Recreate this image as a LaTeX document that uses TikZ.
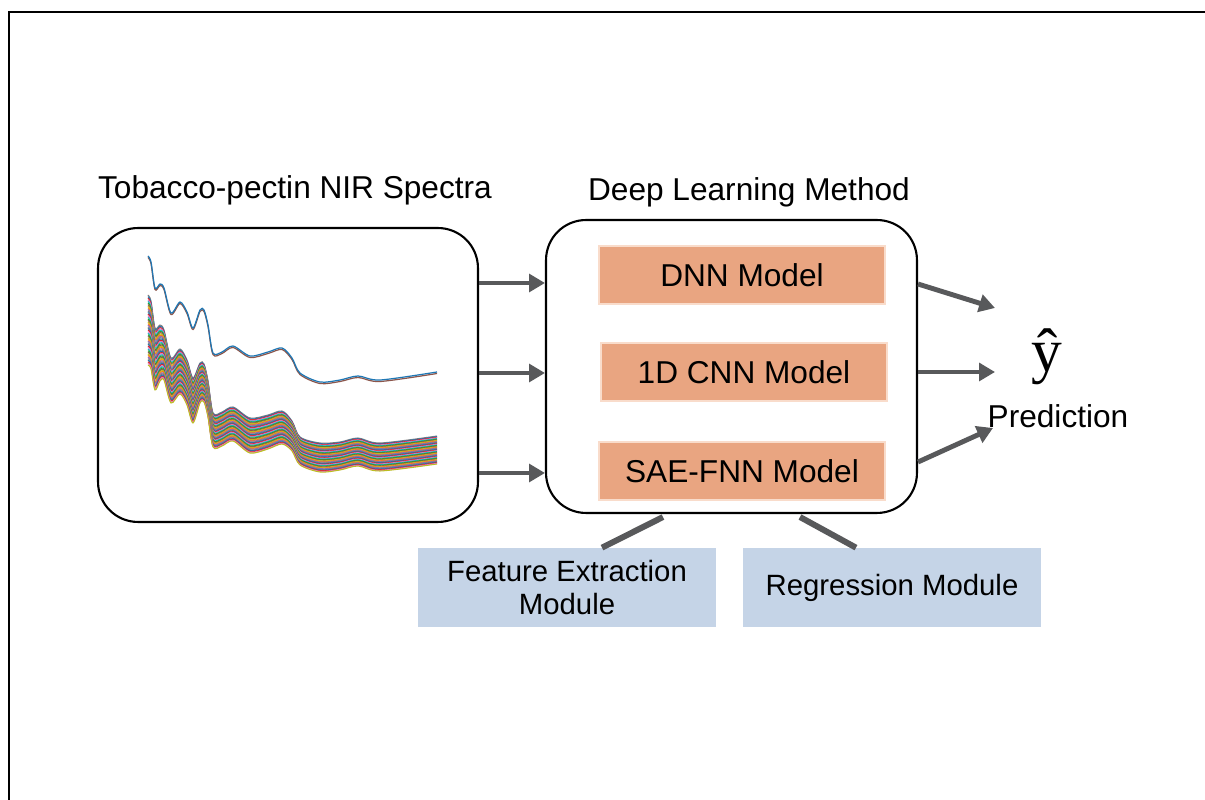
\documentclass[tikz,border=0pt]{standalone}
\usepackage{fontspec}
\setmainfont{Liberation Sans}
\newfontfamily\hatfont{Liberation Serif}
\usetikzlibrary{arrows.meta}

% matplotlib colours for the spectra
\definecolor{tab0}{HTML}{1F77B4}
\definecolor{tab1}{HTML}{FF7F0E}
\definecolor{tab2}{HTML}{2CA02C}
\definecolor{tab3}{HTML}{D62728}
\definecolor{tab4}{HTML}{9467BD}
\definecolor{tab5}{HTML}{8C564B}
\definecolor{tab6}{HTML}{E377C2}
\definecolor{tab7}{HTML}{7F7F7F}
\definecolor{tab8}{HTML}{BCBD22}
\definecolor{tab9}{HTML}{17BECF}
\definecolor{modelfill}{HTML}{E9A581}
\definecolor{modeledge}{HTML}{F9DCCB}
\definecolor{modulefill}{HTML}{C5D4E7}
\definecolor{arrowgray}{HTML}{58595B}

% x / y / offset / spread of the spectra
\newcommand{\specpts}{148/256/39/70, 151/262/39/68, 155/288/40/62, 160/284/41/56,
  164/288/42/50, 171/313/45/45, 180/302/47/45, 187/312/48/45, 193/328/50/45,
  200/310/53/40, 204/310/54/38, 208/325/56/36, 213/353/60/34, 222/352/60/34,
  233/346/61/34, 250/356/62/35, 268/352/63/34, 282/348/63/33, 292/358/63/30,
  300/373/64/28, 320/382/61/29, 340/380/62/28, 358/376/62/28, 380/380/63/28,
  437/372/64/28}

\begin{document}
\begin{tikzpicture}[x=0.02cm,y=-0.02cm,
  every node/.style={font=\fontsize{18}{21}\selectfont},
  bigbox/.style={draw,line width=1.2pt,rounded corners=0.8cm,fill=white},
  modelbox/.style={draw=modeledge,line width=1pt,fill=modelfill,minimum width=5.72cm,minimum height=1.16cm},
  modulebox/.style={fill=modulefill,minimum width=5.96cm,minimum height=1.58cm,align=center,
    font=\fontsize{16.7}{19}\selectfont},
  arr/.style={arrowgray,line width=2.8pt,-{Triangle[length=9pt,width=10pt]}},
  link/.style={arrowgray,line width=3.4pt}]
\useasboundingbox (0,0) rectangle (1205,800);

% outer frame
\draw[line width=1.7pt] (9,12) rectangle (1230,830);

% boxes
\node[bigbox,minimum width=7.6cm,minimum height=5.88cm] (spec) at (288,375) {};
\node[bigbox,minimum width=7.42cm,minimum height=5.86cm] (method) at (731.5,366.5) {};

% titles
\node (spectitle) at (295,190) {Tobacco-pectin NIR Spectra};
\node (methodtitle) at (749,192) {Deep Learning Method};

% spectra bundle
\foreach \i in {0,...,44}{
  \pgfmathsetmacro\t{\i/44}
  \pgfmathtruncatemacro\c{mod(\i*3+7,10)}
  \ifnum\i=44 \def\c{8}\fi
  \xdef\pts{}
  \foreach \x/\y/\d/\s in \specpts{
    \pgfmathsetmacro\yy{\y+\d+\t*\s}
    \xdef\pts{\pts (\x,\yy)}
  }
  \edef\tmp{\noexpand\draw[tab\c,line width=0.6pt] plot[smooth,tension=0.5] coordinates {\pts};}
  \tmp
}
% upper spectra
\foreach \o/\c in {1.5/5,0/0}{
  \xdef\pts{}
  \foreach \x/\y/\d/\s in \specpts{
    \pgfmathsetmacro\yy{\y+\o}
    \xdef\pts{\pts (\x,\yy)}
  }
  \edef\tmp{\noexpand\draw[tab\c,line width=0.7pt] plot[smooth,tension=0.5] coordinates {\pts};}
  \tmp
}

% models
\node[modelbox] (dnn) at (742,275) {DNN Model};
\node[modelbox] (cnn) at (744,372) {1D CNN Model};
\node[modelbox] (sae) at (742,471) {SAE-FNN Model};

% modules
\node[modulebox] (feat) at (567,587.5) {Feature Extraction\\Module};
\node[modulebox] (regr) at (892,587.5) {Regression Module};

% prediction
\node[font=\hatfont\fontsize{35}{35}\selectfont] (yhat) at (1047,357) {ŷ};
\node (pred) at (1058,416) {Prediction};
\coordinate (p1) at (995,308);
\coordinate (p2) at (995,372);
\coordinate (p3) at (993,428);

% arrows
\foreach \y in {283,373,473}
  \draw[arr] (spec.east |- 0,\y) -- (method.west |- 0,\y);
\draw[arr] (method.east |- 0,284) -- (p1);
\draw[arr] (method.east |- 0,372) -- (p2);
\draw[arr] (method.east |- 0,462) -- (p3);

% links to the modules
\draw[link] (method.south -| 663,0) ++(0,3) -- (feat.north -| 602,0);
\draw[link] (method.south -| 800,0) ++(0,3) -- (regr.north -| 856,0);

\end{tikzpicture}
\end{document}
